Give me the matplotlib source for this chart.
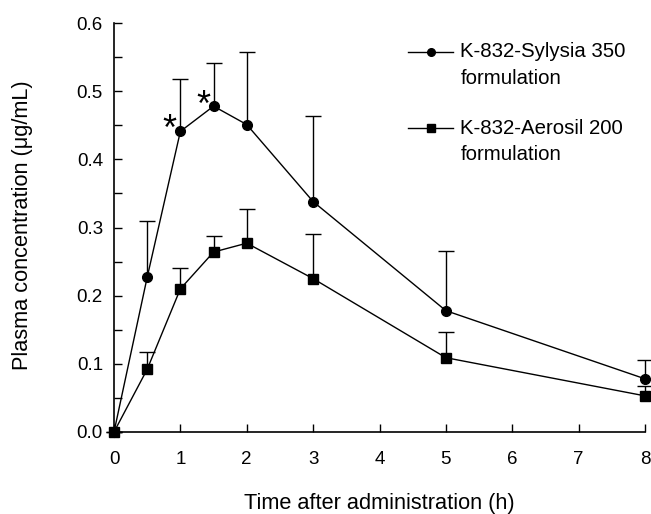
import numpy as np
import matplotlib.pyplot as plt
from matplotlib.lines import Line2D
from matplotlib.legend_handler import HandlerLine2D

plt.rcParams['font.family'] = ['Liberation Sans', 'DejaVu Sans']

# time points (h)
t = [0, 0.5, 1, 1.5, 2, 3, 5, 8]

# K-832-Sylysia 350 formulation: mean and upper SD
syl_mean = [0.0, 0.227, 0.441, 0.478, 0.451, 0.338, 0.178, 0.078]
syl_top = [0.0, 0.310, 0.518, 0.541, 0.557, 0.464, 0.265, 0.106]

# K-832-Aerosil 200 formulation
aer_mean = [0.0, 0.092, 0.210, 0.264, 0.277, 0.225, 0.109, 0.053]
aer_top = [0.0, 0.118, 0.240, 0.288, 0.327, 0.290, 0.147, 0.068]

syl_err = np.array(syl_top) - np.array(syl_mean)
aer_err = np.array(aer_top) - np.array(aer_mean)


class FirstLineHandler(HandlerLine2D):
    # put the legend symbol next to the first text line instead of the middle
    def create_artists(self, legend, orig_handle, xdescent, ydescent, width, height,
                       fontsize, trans):
        return super().create_artists(legend, orig_handle, xdescent, ydescent - 20,
                                      width, height, fontsize, trans)


fig = plt.figure(figsize=(6.51, 5.14), dpi=100)
ax = fig.add_axes([114 / 651, 82 / 514, 531 / 651, 409 / 514])

for mean, err, mk in [(syl_mean, syl_err, 'o'), (aer_mean, aer_err, 's')]:
    line, caps, bars = ax.errorbar(t, mean, yerr=[np.zeros(len(t)), err], fmt='-' + mk,
                                   color='black', ms=7, lw=1, elinewidth=1, capsize=6,
                                   capthick=1, clip_on=False, zorder=3)
    # only the upper half of the SD is shown
    caps[0].set_visible(False)
    line.set_clip_on(False)

# significance marks
ax.text(0.84, 0.443, '*', fontsize=26, ha='center', va='center')
ax.text(1.34, 0.478, '*', fontsize=26, ha='center', va='center')

ax.set_xlim(0, 8)
ax.set_ylim(0, 0.6)
ax.set_xticks(range(0, 9))
ax.set_yticks(np.arange(0, 0.61, 0.1))
ax.set_yticks(np.arange(0.05, 0.6, 0.1), minor=True)
ax.set_yticklabels([f'{v:.1f}' for v in np.arange(0, 0.61, 0.1)])
ax.tick_params(axis='both', which='both', direction='in', length=6, width=1,
               labelsize=13.5)
ax.tick_params(axis='x', pad=14)
ax.tick_params(axis='y', pad=8)
for s in ['top', 'right']:
    ax.spines[s].set_visible(False)
for s in ['left', 'bottom']:
    ax.spines[s].set_linewidth(1.2)

ax.set_xlabel('Time after administration (h)', fontsize=15.7)
ax.set_ylabel('Plasma concentration (μg/mL)', fontsize=15.7)
ax.xaxis.set_label_coords(0.5, -0.150)
ax.yaxis.set_label_coords(-0.1525, 0.505)

handles = [Line2D([], [], color='black', lw=1, marker='o', ms=5.5),
           Line2D([], [], color='black', lw=1, marker='s', ms=5.5)]
labels = ['K-832-Sylysia 350\nformulation', 'K-832-Aerosil 200\nformulation']
leg = ax.legend(handles, labels, loc='upper left', bbox_to_anchor=(390 / 651, 1 - 24 / 514),
                bbox_transform=fig.transFigure, frameon=False, fontsize=14.7,
                handlelength=2.2, handletextpad=0.35, labelspacing=1.5,
                handler_map={Line2D: FirstLineHandler()})
for txt in leg.get_texts():
    txt.set_linespacing(1.5)

fig.savefig('out.png', dpi=100)
